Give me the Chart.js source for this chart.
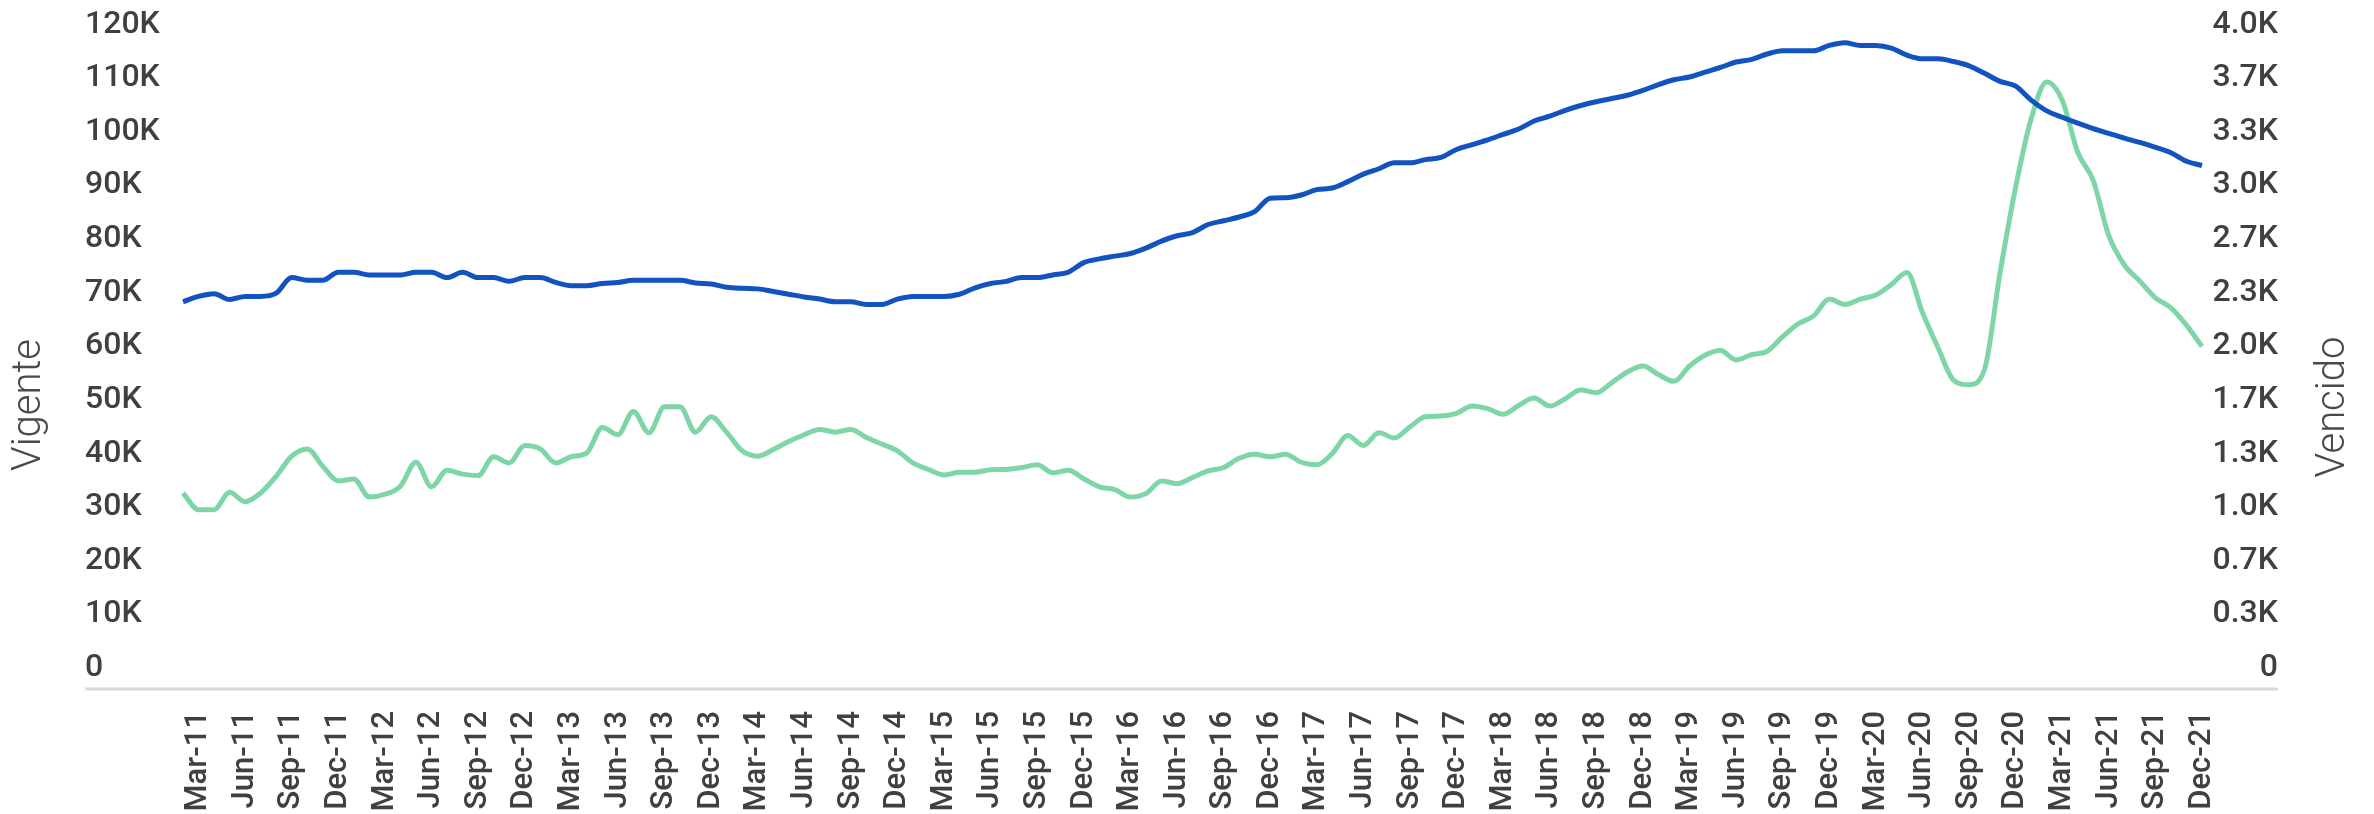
<!DOCTYPE html>
<html>
<head>
<meta charset="utf-8">
<script src="https://cdn.jsdelivr.net/npm/chart.js@4.4.1/dist/chart.umd.min.js"></script>
<style>
html,body{margin:0;padding:0;background:#fff;overflow:hidden}
canvas{display:block}
</style>
</head>
<body>
<canvas id="c" width="2374" height="814"></canvas>
<script>
const categories = [
 "Feb-11","Mar-11","Apr-11","May-11","Jun-11","Jul-11","Aug-11","Sep-11","Oct-11","Nov-11","Dec-11",
 "Jan-12","Feb-12","Mar-12","Apr-12","May-12","Jun-12","Jul-12","Aug-12","Sep-12","Oct-12","Nov-12","Dec-12",
 "Jan-13","Feb-13","Mar-13","Apr-13","May-13","Jun-13","Jul-13","Aug-13","Sep-13","Oct-13","Nov-13","Dec-13",
 "Jan-14","Feb-14","Mar-14","Apr-14","May-14","Jun-14","Jul-14","Aug-14","Sep-14","Oct-14","Nov-14","Dec-14",
 "Jan-15","Feb-15","Mar-15","Apr-15","May-15","Jun-15","Jul-15","Aug-15","Sep-15","Oct-15","Nov-15","Dec-15",
 "Jan-16","Feb-16","Mar-16","Apr-16","May-16","Jun-16","Jul-16","Aug-16","Sep-16","Oct-16","Nov-16","Dec-16",
 "Jan-17","Feb-17","Mar-17","Apr-17","May-17","Jun-17","Jul-17","Aug-17","Sep-17","Oct-17","Nov-17","Dec-17",
 "Jan-18","Feb-18","Mar-18","Apr-18","May-18","Jun-18","Jul-18","Aug-18","Sep-18","Oct-18","Nov-18","Dec-18",
 "Jan-19","Feb-19","Mar-19","Apr-19","May-19","Jun-19","Jul-19","Aug-19","Sep-19","Oct-19","Nov-19","Dec-19",
 "Jan-20","Feb-20","Mar-20","Apr-20","May-20","Jun-20","Jul-20","Aug-20","Sep-20","Oct-20","Nov-20","Dec-20",
 "Jan-21","Feb-21","Mar-21","Apr-21","May-21","Jun-21","Jul-21","Aug-21","Sep-21","Oct-21","Nov-21","Dec-21"
];

// Vigente (left axis)
const vigente = [
 68300,69300,69800,68700,69300,69300,69900,72800,72300,72300,73800,73800,73300,73300,73300,73800,73800,72800,73800,72800,72800,72100,72800,72800,71900,71300,
 71300,71700,71900,72300,72300,72300,72300,71800,71600,71000,70800,70700,70200,69700,69200,68800,68300,68300,67800,67800,68800,69300,69300,69300,69700,70900,71700,
 72100,72800,72800,73300,73800,75600,76300,76800,77300,78300,79600,80600,81200,82700,83400,84100,85100,87600,87700,88200,89200,89500,90700,92100,93100,94200,
 94200,94800,95200,96700,97600,98500,99500,100500,102000,102900,104000,104900,105600,106200,106800,107700,108800,109700,110200,111100,112000,113000,113500,114500,115100,115100,
 115100,116100,116600,116100,116100,115600,114300,113600,113600,113100,112300,110900,109400,108500,105900,103900,102700,101600,100600,99700,98800,98000,97100,96100,94500,93700
];

// Vencido (right axis)
const vencido = [
 1088,984,984,1092,1034,1088,1192,1317,1362,1254,1163,1175,1063,1080,1130,1279,1126,1229,1205,1196,1313,1275,1383,1362,1275,1313,
 1337,1495,1450,1595,1462,1624,1624,1466,1562,1466,1350,1317,1358,1408,1450,1483,1466,1483,1433,1392,1350,1275,1234,1200,1217,1217,1232,
 1234,1246,1263,1213,1229,1176,1126,1109,1063,1084,1163,1146,1184,1225,1246,1304,1329,1313,1329,1279,1263,1333,1445,1383,1462,1430,
 1499,1562,1566,1583,1628,1612,1578,1632,1678,1628,1674,1728,1711,1774,1840,1877,1824,1782,1877,1944,1973,1915,1948,1969,2060,2140,
 2189,2293,2260,2293,2318,2384,2459,2210,1992,1790,1761,1857,2459,2989,3414,3643,3529,3206,3030,2687,2505,2405,2301,2239,2131,1998
];

const leftTicks = [0,10000,20000,30000,40000,50000,60000,70000,80000,90000,100000,110000,120000];
const leftTickLabels = ["0","10K","20K","30K","40K","50K","60K","70K","80K","90K","100K","110K","120K"];
const rightTicks = [0,333.333,666.667,1000,1333.333,1666.667,2000,2333.333,2666.667,3000,3333.333,3666.667,4000];
const rightTickLabels = ["0","0.3K","0.7K","1.0K","1.3K","1.7K","2.0K","2.3K","2.7K","3.0K","3.3K","3.7K","4.0K"];
const shownMonths = ["Mar","Jun","Sep","Dec"];

const decor = {
  id: 'decor',
  beforeDatasetsDraw(chart) {
    const ctx = chart.ctx, a = chart.chartArea;
    ctx.save();
    ctx.strokeStyle = '#d9d9d9';
    ctx.lineWidth = 3;
    ctx.beginPath();
    ctx.moveTo(85, a.bottom + 21);
    ctx.lineTo(2278, a.bottom + 21);
    ctx.stroke();
    ctx.restore();
  },
  afterDraw(chart) {
    const ctx = chart.ctx;
    ctx.save();
    ctx.fillStyle = '#4a4a4a';
    ctx.font = '300 40px Roboto';
    ctx.textAlign = 'center';
    ctx.textBaseline = 'middle';
    [['Vigente', 30, 405], ['Vencido', 2334, 407]].forEach(([t, x, y]) => {
      ctx.save();
      ctx.translate(x, y);
      ctx.rotate(-Math.PI / 2);
      ctx.fillText(t, 0, 0);
      ctx.restore();
    });
    ctx.restore();
  }
};

Chart.defaults.font.family = 'Roboto';
Chart.defaults.color = '#404040';

new Chart(document.getElementById('c'), {
  type: 'line',
  data: {
    labels: categories,
    datasets: [
      {
        label: 'Vigente',
        data: vigente,
        yAxisID: 'y',
        borderColor: '#1252C1',
        backgroundColor: '#1252C1',
        borderWidth: 5,
        pointRadius: 0,
        cubicInterpolationMode: 'monotone',
        fill: false
      },
      {
        label: 'Vencido',
        data: vencido,
        yAxisID: 'y1',
        borderColor: '#7ED6A7',
        backgroundColor: '#7ED6A7',
        borderWidth: 5,
        pointRadius: 0,
        cubicInterpolationMode: 'monotone',
        fill: false
      }
    ]
  },
  options: {
    responsive: false,
    animation: false,
    layout: { padding: { left: 85, right: 96, top: 24.5, bottom: 0 } },
    plugins: { legend: { display: false }, tooltip: { enabled: false } },
    scales: {
      x: {
        type: 'category',
        offset: false,
        grid: { display: false, drawTicks: false },
        border: { display: false },
        afterFit(scale) { scale.height = 146; },
        ticks: {
          autoSkip: false,
          minRotation: 90,
          maxRotation: 90,
          padding: 43,
          color: '#404040',
          font: { family: 'Roboto', size: 31, weight: '500' },
          callback(value, index) {
            const lab = categories[index];
            return shownMonths.includes(lab.slice(0, 3)) ? lab : null;
          }
        }
      },
      y: {
        position: 'left',
        min: 0,
        max: 120000,
        grid: { display: false, drawTicks: false },
        border: { display: false },
        afterFit(scale) { scale.width = 98; },
        afterBuildTicks(scale) { scale.ticks = leftTicks.map(v => ({ value: v })); },
        ticks: {
          crossAlign: 'far',
          padding: 0,
          color: '#404040',
          font: { family: 'Roboto', size: 32, weight: '500' },
          callback(value, index) { return leftTickLabels[index]; }
        }
      },
      y1: {
        position: 'right',
        min: 0,
        max: 4000,
        grid: { display: false, drawTicks: false },
        border: { display: false },
        afterFit(scale) { scale.width = 76; },
        afterBuildTicks(scale) { scale.ticks = rightTicks.map(v => ({ value: v })); },
        ticks: {
          crossAlign: 'far',
          padding: 0,
          color: '#404040',
          font: { family: 'Roboto', size: 32, weight: '500' },
          callback(value, index) { return rightTickLabels[index]; }
        }
      }
    }
  },
  plugins: [decor]
});
</script>
</body>
</html>
